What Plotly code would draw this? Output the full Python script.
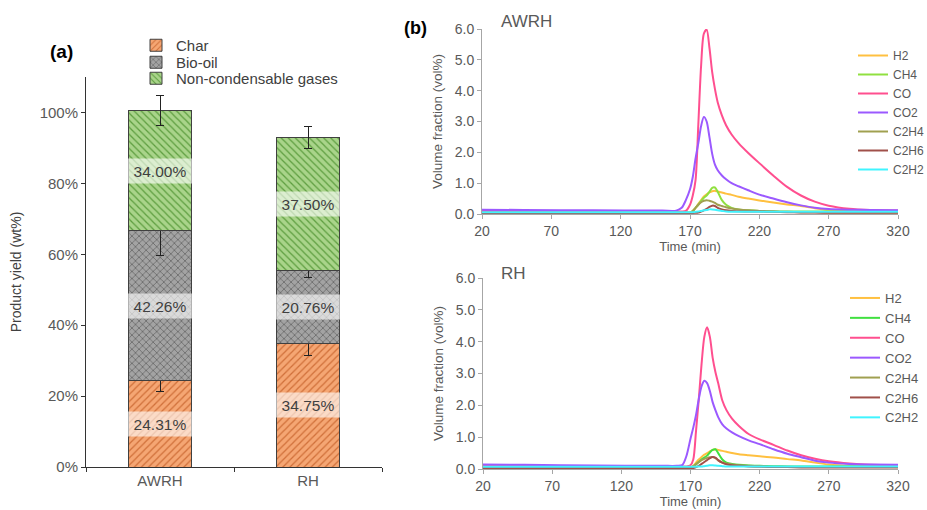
import plotly.graph_objects as go

# ---------------- data: panel (a) ----------------
samples = ["AWRH", "RH"]
char_yield = [24.31, 34.75]
biooil_yield = [42.26, 20.76]
gas_yield = [34.00, 37.50]
char_err = [3.0, 3.2]
biooil_err = [6.9, 2.0]
gas_err = [4.3, 3.1]
yield_ticks = [0, 20, 40, 60, 80, 100]

# ---------------- data: panel (b) ----------------
time_min = [20, 50, 100, 150, 160, 164, 167, 170, 172, 174, 176, 178, 180, 182, 184, 186,
            188, 190, 193, 196, 200, 205, 212, 220, 230, 240, 250, 260, 270, 285, 300, 320]
time_ticks = [20, 70, 120, 170, 220, 270, 320]
gas_names = ["H2", "CH4", "CO", "CO2", "C2H4", "C2H6", "C2H2"]

awrh_H2 = [0.05, 0.05, 0.05, 0.05, 0.05, 0.05, 0.05, 0.05, 0.10, 0.20, 0.33, 0.45, 0.57, 0.64, 0.70, 0.74,
           0.75, 0.73, 0.70, 0.66, 0.62, 0.56, 0.50, 0.44, 0.37, 0.31, 0.26, 0.19, 0.12, 0.09, 0.08, 0.08]
awrh_CH4 = [0.05, 0.05, 0.05, 0.05, 0.05, 0.05, 0.05, 0.05, 0.10, 0.20, 0.30, 0.42, 0.53, 0.60, 0.72, 0.85,
            0.86, 0.72, 0.45, 0.30, 0.20, 0.15, 0.12, 0.10, 0.09, 0.08, 0.08, 0.08, 0.08, 0.08, 0.08, 0.08]
awrh_CO = [0.10, 0.10, 0.09, 0.08, 0.08, 0.08, 0.10, 0.30, 0.60, 1.10, 2.90, 4.80, 5.85, 5.98, 5.40, 4.60,
           4.05, 3.62, 3.20, 2.88, 2.58, 2.30, 1.98, 1.65, 1.25, 0.88, 0.60, 0.40, 0.27, 0.17, 0.13, 0.11]
awrh_CO2 = [0.14, 0.13, 0.12, 0.11, 0.11, 0.20, 0.45, 0.80, 1.20, 1.80, 2.30, 2.85, 3.15, 3.00, 2.50, 1.95,
            1.60, 1.42, 1.25, 1.13, 1.00, 0.90, 0.77, 0.63, 0.50, 0.38, 0.28, 0.20, 0.16, 0.14, 0.13, 0.12]
awrh_C2H4 = [0.04, 0.04, 0.04, 0.04, 0.04, 0.04, 0.04, 0.04, 0.10, 0.20, 0.30, 0.38, 0.43, 0.45, 0.43, 0.40,
             0.36, 0.30, 0.26, 0.22, 0.18, 0.15, 0.12, 0.10, 0.08, 0.07, 0.06, 0.06, 0.05, 0.05, 0.05, 0.05]
awrh_C2H6 = [0.03, 0.03, 0.03, 0.03, 0.03, 0.03, 0.03, 0.03, 0.03, 0.04, 0.05, 0.08, 0.12, 0.17, 0.23, 0.27,
             0.26, 0.20, 0.15, 0.12, 0.10, 0.09, 0.08, 0.08, 0.07, 0.06, 0.05, 0.05, 0.04, 0.04, 0.04, 0.04]
awrh_C2H2 = [0.06, 0.06, 0.06, 0.06, 0.06, 0.06, 0.06, 0.06, 0.06, 0.07, 0.08, 0.10, 0.12, 0.13, 0.15, 0.15,
             0.14, 0.12, 0.10, 0.08, 0.07, 0.07, 0.07, 0.07, 0.07, 0.07, 0.07, 0.07, 0.07, 0.07, 0.07, 0.07]

rh_H2 = [0.05, 0.05, 0.05, 0.05, 0.05, 0.05, 0.05, 0.05, 0.10, 0.20, 0.30, 0.38, 0.45, 0.50, 0.55, 0.60,
         0.62, 0.60, 0.57, 0.54, 0.50, 0.46, 0.43, 0.40, 0.36, 0.31, 0.27, 0.20, 0.14, 0.10, 0.09, 0.09]
rh_CH4 = [0.05, 0.05, 0.05, 0.05, 0.05, 0.05, 0.05, 0.05, 0.08, 0.15, 0.22, 0.30, 0.36, 0.42, 0.52, 0.60,
          0.62, 0.50, 0.30, 0.20, 0.16, 0.13, 0.11, 0.10, 0.09, 0.08, 0.08, 0.08, 0.08, 0.08, 0.08, 0.08]
rh_CO = [0.10, 0.10, 0.09, 0.08, 0.08, 0.08, 0.08, 0.12, 0.30, 1.20, 2.20, 3.30, 4.15, 4.45, 4.15, 3.50,
         3.05, 2.70, 2.15, 1.85, 1.58, 1.35, 1.10, 0.93, 0.76, 0.58, 0.43, 0.32, 0.24, 0.17, 0.13, 0.12]
rh_CO2 = [0.14, 0.13, 0.11, 0.10, 0.10, 0.12, 0.40, 0.95, 1.30, 1.70, 2.20, 2.60, 2.77, 2.70, 2.45, 2.10,
          1.85, 1.63, 1.40, 1.27, 1.15, 1.03, 0.90, 0.78, 0.62, 0.48, 0.37, 0.26, 0.20, 0.16, 0.14, 0.13]
rh_C2H4 = [0.04, 0.04, 0.04, 0.04, 0.04, 0.04, 0.04, 0.04, 0.08, 0.15, 0.22, 0.28, 0.32, 0.35, 0.37, 0.38,
           0.34, 0.27, 0.20, 0.17, 0.14, 0.12, 0.10, 0.09, 0.07, 0.07, 0.06, 0.06, 0.06, 0.06, 0.06, 0.06]
rh_C2H6 = [0.03, 0.03, 0.03, 0.03, 0.03, 0.03, 0.03, 0.03, 0.03, 0.06, 0.10, 0.16, 0.22, 0.28, 0.34, 0.38,
           0.36, 0.28, 0.20, 0.15, 0.12, 0.10, 0.08, 0.07, 0.06, 0.06, 0.05, 0.05, 0.05, 0.05, 0.05, 0.05]
rh_C2H2 = [0.07, 0.07, 0.07, 0.07, 0.07, 0.07, 0.07, 0.07, 0.07, 0.07, 0.08, 0.08, 0.09, 0.10, 0.12, 0.12,
           0.11, 0.10, 0.09, 0.08, 0.08, 0.08, 0.08, 0.08, 0.08, 0.08, 0.08, 0.08, 0.08, 0.08, 0.08, 0.08]

# ---------------- styling ----------------
W, H = 927, 510
FONT = "Liberation Sans, Arial, sans-serif"
TXT = "#595959"
colors_top = ["#FFC040", "#90E040", "#FF4F8F", "#9B59FF", "#A0A050", "#A0504A", "#40F4FF"]
colors_bot = ["#FFC040", "#40E040", "#FF4F8F", "#9B59FF", "#A0A050", "#A0504A", "#40F4FF"]


def px_x(p):
    return p / W


def px_y(p):
    return 1 - p / H


fig = go.Figure()

bar_specs = [
    ("Char", char_yield, char_err, "#F5A673", "#D0703A", "/", "legend"),
    ("Bio-oil", biooil_yield, biooil_err, "#A3A3A3", "#5E5E5E", "x", "legend4"),
    ("Non-condensable gases", gas_yield, gas_err, "#A9D48A", "#5E9E40", "\\", "legend5"),
]
for name, vals, errs, bg, fg, shape, leg in bar_specs:
    fig.add_trace(go.Bar(
        x=samples, y=vals, name=name, width=0.43,
        marker=dict(color=bg, line=dict(color="#404040", width=1),
                    pattern=dict(shape=shape, fgcolor=fg, bgcolor=bg, size=5,
                                 solidity=0.25, fillmode="replace")),
        error_y=dict(type="data", array=errs, color="#222222", thickness=1, width=4),
        xaxis="x", yaxis="y", legend=leg,
    ))

# segment labels
for i, s in enumerate(samples):
    base = 0
    for vals in (char_yield, biooil_yield, gas_yield):
        fig.add_annotation(x=s, y=base + vals[i] / 2, xref="x", yref="y",
                           text=f"{vals[i]:.2f}%", showarrow=False,
                           bgcolor="rgba(255,255,255,0.6)", width=62, height=22,
                           font=dict(size=15.5, color="#404040", family=FONT))
        base += vals[i]

awrh_sets = [awrh_H2, awrh_CH4, awrh_CO, awrh_CO2, awrh_C2H4, awrh_C2H6, awrh_C2H2]
rh_sets = [rh_H2, rh_CH4, rh_CO, rh_CO2, rh_C2H4, rh_C2H6, rh_C2H2]
for name, vals, c in zip(gas_names, awrh_sets, colors_top):
    fig.add_trace(go.Scatter(x=time_min, y=vals, name=name, mode="lines",
                             line=dict(color=c, width=2, shape="spline", smoothing=0.8),
                             xaxis="x2", yaxis="y2", legend="legend2"))
for name, vals, c in zip(gas_names, rh_sets, colors_bot):
    fig.add_trace(go.Scatter(x=time_min, y=vals, name=name, mode="lines",
                             line=dict(color=c, width=2, shape="spline", smoothing=0.8),
                             xaxis="x3", yaxis="y3", legend="legend3"))

axis_font = dict(size=14, color=TXT, family=FONT)
right_x = dict(range=[20, 320], tickvals=time_ticks, showline=True, linecolor="#A6A6A6",
               linewidth=1, ticks="outside", ticklen=4, tickcolor="#A6A6A6",
               tickfont=axis_font, showgrid=False, zeroline=False, automargin=False,
               title=dict(text="Time (min)", font=dict(size=13, color=TXT, family=FONT), standoff=2))
right_y = dict(range=[0, 6], dtick=1, tickformat=".1f", showline=True, linecolor="#A6A6A6",
               linewidth=1, ticks="outside", ticklen=4, tickcolor="#A6A6A6",
               tickfont=axis_font, showgrid=False, zeroline=False, automargin=False,
               title=dict(text="Volume fraction (vol%)", font=dict(size=13.5, color=TXT, family=FONT),
                          standoff=9))

legend_common = dict(xanchor="left", yanchor="top", bgcolor="rgba(0,0,0,0)",
                     tracegroupgap=0, itemwidth=30)
bar_leg_font = dict(size=15, color="#404040", family=FONT)

fig.update_layout(
    width=W, height=H, margin=dict(l=0, r=0, t=0, b=0, autoexpand=False),
    paper_bgcolor="white", plot_bgcolor="white",
    font=dict(family=FONT, color=TXT),
    barmode="stack", showlegend=True,
    xaxis=dict(domain=[px_x(86), px_x(382)], anchor="y", range=[-0.5, 1.5], automargin=False,
               showline=True, linecolor="#333333", linewidth=1, ticks="outside",
               tickson="boundaries", ticklen=4, tickcolor="#333333",
               tickfont=dict(size=15, color=TXT, family=FONT), showgrid=False),
    yaxis=dict(domain=[px_y(467), px_y(77)], anchor="x", range=[0, 110], tickvals=yield_ticks,
               ticktext=[f"{v}%" for v in yield_ticks], automargin=False,
               showline=True, linecolor="#333333", linewidth=1, ticks="outside",
               ticklen=4, tickcolor="#333333", tickfont=dict(size=15, color=TXT, family=FONT),
               showgrid=False, zeroline=False,
               title=dict(text="Product yield (wt%)", font=dict(size=14, color="#404040", family=FONT),
                          standoff=14)),
    xaxis2=dict(domain=[px_x(482), px_x(898)], anchor="y2", **right_x),
    yaxis2=dict(domain=[px_y(214), px_y(29)], anchor="x2", **right_y),
    xaxis3=dict(domain=[px_x(483), px_x(898)], anchor="y3", **right_x),
    yaxis3=dict(domain=[px_y(469), px_y(278)], anchor="x3", **right_y),
    legend=dict(x=px_x(136), y=px_y(29), font=bar_leg_font, **legend_common),
    legend4=dict(x=px_x(136), y=px_y(46), font=bar_leg_font, **legend_common),
    legend5=dict(x=px_x(136), y=px_y(62), font=bar_leg_font, **legend_common),
    legend2=dict(x=px_x(853), y=px_y(41), font=dict(size=12, color=TXT, family=FONT), **legend_common),
    legend3=dict(x=px_x(845), y=px_y(283), font=dict(size=13, color=TXT, family=FONT), **legend_common),
)

fig.add_annotation(x=px_x(61), y=px_y(52), xref="paper", yref="paper", text="<b>(a)</b>",
                   xanchor="center", yanchor="middle",
                   showarrow=False, font=dict(size=19, color="black", family=FONT))
fig.add_annotation(x=px_x(415), y=px_y(28), xref="paper", yref="paper", text="<b>(b)</b>",
                   xanchor="center", yanchor="middle",
                   showarrow=False, font=dict(size=18, color="black", family=FONT))
fig.add_annotation(x=px_x(499), y=px_y(22), xref="paper", yref="paper", text="AWRH",
                   xanchor="left", yanchor="middle",
                   showarrow=False, font=dict(size=17, color=TXT, family=FONT))
fig.add_annotation(x=px_x(499), y=px_y(273), xref="paper", yref="paper", text="RH",
                   xanchor="left", yanchor="middle",
                   showarrow=False, font=dict(size=17, color=TXT, family=FONT))

fig.write_html("out.html", config={"displayModeBar": False},
               post_script="document.body.style.margin='0';document.body.style.overflow='hidden';")
